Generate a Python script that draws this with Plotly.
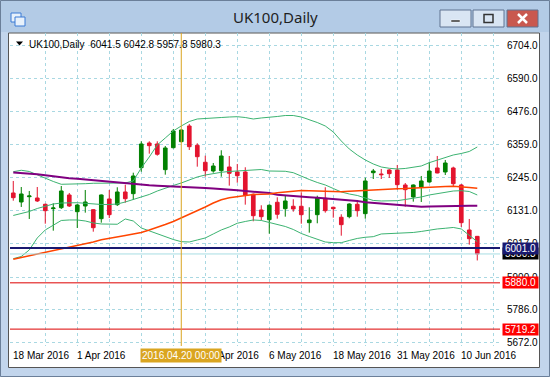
import plotly.graph_objects as go

# ---------------- data ----------------
bar_index = list(range(59))
opens = [6192.2, 6160.9, 6179.3, 6174.8, 6152.9, 6137.7, 6141.1, 6185.3, 6127.2, 6147.0,
         6134.2, 6102.9, 6171.4, 6151.6, 6195.7, 6189.8, 6280.1, 6365.9, 6362.5, 6273.2,
         6349.6, 6370.5, 6425.0, 6357.9, 6298.9, 6268.6, 6269.7, 6282.5, 6265.2, 6265.2,
         6187.7, 6133.1, 6099.4, 6159.9, 6137.7, 6146.0, 6146.0, 6089.0, 6116.8, 6173.8,
         6142.5, 6107.8, 6109.9, 6152.9, 6120.3, 6262.7, 6258.2, 6272.1, 6272.1, 6220.0,
         6178.3, 6213.0, 6230.4, 6279.1, 6265.2, 6279.1, 6220.0, 6063.6, 6041.5]
highs = [6233.9, 6213.0, 6199.2, 6213.0, 6155.0, 6156.4, 6216.5, 6192.2, 6153.9, 6202.6,
         6136.0, 6187.0, 6202.6, 6212.0, 6221.1, 6262.7, 6371.8, 6371.8, 6371.8, 6355.5,
         6414.6, 6413.0, 6432.0, 6364.9, 6321.8, 6296.4, 6340.6, 6320.8, 6293.0, 6281.5,
         6190.0, 6149.5, 6152.9, 6177.3, 6184.2, 6170.3, 6194.6, 6142.5, 6182.8, 6212.0,
         6144.6, 6118.2, 6156.4, 6167.9, 6245.4, 6275.6, 6275.6, 6275.0, 6289.5, 6226.9,
         6222.0, 6251.3, 6299.9, 6320.8, 6306.9, 6283.6, 6223.5, 6101.9, 6042.8]
lows = [6165.4, 6143.6, 6101.9, 6160.9, 6085.5, 6061.2, 6136.6, 6143.6, 6070.6, 6123.8,
        6057.7, 6089.0, 6105.3, 6147.0, 6158.5, 6167.9, 6266.2, 6328.8, 6321.8, 6255.8,
        6347.0, 6368.0, 6341.6, 6283.6, 6248.8, 6262.7, 6248.8, 6217.6, 6228.0, 6151.6,
        6093.9, 6097.3, 6050.8, 6102.9, 6109.9, 6127.2, 6085.5, 6054.3, 6086.9, 6123.8,
        6106.4, 6043.8, 6104.3, 6109.9, 6102.9, 6240.8, 6240.8, 6244.3, 6203.7, 6144.6,
        6162.0, 6160.9, 6228.0, 6260.6, 6254.7, 6214.1, 6074.1, 6012.6, 5957.8]
closes = [6175.9, 6188.7, 6181.8, 6164.4, 6130.7, 6140.1, 6199.2, 6147.0, 6150.5, 6160.9,
          6071.6, 6185.3, 6116.8, 6195.7, 6172.4, 6251.3, 6362.5, 6356.6, 6326.7, 6348.6,
          6407.6, 6411.1, 6353.1, 6318.3, 6269.7, 6286.0, 6320.8, 6260.6, 6252.3, 6184.2,
          6113.3, 6109.9, 6149.5, 6118.2, 6164.4, 6136.6, 6116.8, 6098.4, 6175.9, 6130.7,
          6137.7, 6082.1, 6153.9, 6130.7, 6233.9, 6268.6, 6255.8, 6259.3, 6221.1, 6203.7,
          6220.0, 6233.9, 6268.6, 6261.7, 6296.4, 6224.5, 6089.0, 6033.4, 5980.3]

bb_upper = [6266.2, 6271.1, 6266.9, 6254.7, 6244.3, 6232.2, 6222.4, 6222.4, 6223.5, 6224.5,
            6225.9, 6226.2, 6227.0, 6228.0, 6227.0, 6233.9, 6279.1, 6317.3, 6359.0, 6383.3,
            6407.6, 6425.0, 6440.6, 6449.3, 6451.7, 6452.8, 6454.5, 6456.2, 6457.3, 6454.5,
            6449.3, 6452.8, 6454.5, 6458.0, 6461.4, 6461.4, 6456.2, 6447.5, 6437.1, 6425.0,
            6404.2, 6372.9, 6345.1, 6324.2, 6306.9, 6293.0, 6282.5, 6278.0, 6275.6, 6277.4,
            6281.5, 6286.0, 6297.5, 6306.9, 6317.3, 6324.2, 6329.5, 6336.4, 6352.0]
bb_middle = [6114.1, 6121.0, 6127.9, 6138.3, 6147.0, 6153.9, 6157.4, 6158.4, 6158.4, 6156.4,
             6153.9, 6152.2, 6152.2, 6153.9, 6160.9, 6169.6, 6178.3, 6187.0, 6199.1, 6209.6,
             6218.3, 6227.0, 6237.4, 6247.8, 6254.7, 6260.0, 6264.1, 6266.9, 6268.6, 6272.1,
             6273.8, 6273.8, 6268.6, 6267.6, 6267.6, 6262.7, 6249.5, 6239.1, 6228.7, 6220.0,
             6207.8, 6195.7, 6188.7, 6183.6, 6174.8, 6166.2, 6164.4, 6164.4, 6165.4, 6169.6,
             6173.8, 6178.3, 6185.3, 6190.5, 6194.0, 6199.1, 6200.2, 6197.4, 6185.3]
bb_lower = [5963.9, 5971.6, 5994.2, 6035.9, 6063.7, 6081.0, 6096.7, 6098.4, 6098.4, 6094.9,
            6088.0, 6084.5, 6083.5, 6083.5, 6101.9, 6094.9, 6070.6, 6060.2, 6052.2, 6041.1,
            6030.6, 6023.0, 6021.9, 6028.9, 6035.9, 6049.8, 6063.7, 6074.1, 6087.0, 6093.2,
            6098.4, 6096.7, 6089.7, 6082.8, 6075.8, 6065.4, 6051.5, 6041.1, 6030.6, 6021.9,
            6019.5, 6019.5, 6027.2, 6034.2, 6038.3, 6040.4, 6049.8, 6050.8, 6052.2, 6053.2,
            6055.0, 6058.5, 6063.7, 6067.2, 6069.6, 6072.4, 6067.2, 6046.3, 6023.0]
ma_purple = [6263.4, 6261.7, 6259.3, 6257.2, 6253.7, 6249.5, 6245.4, 6243.3, 6241.9, 6239.1,
             6237.4, 6235.0, 6232.2, 6229.4, 6225.9, 6223.5, 6221.0, 6219.0, 6217.6, 6216.5,
             6215.8, 6215.5, 6214.1, 6212.0, 6209.6, 6207.5, 6206.1, 6204.4, 6201.6, 6199.1,
             6197.4, 6195.7, 6192.2, 6186.3, 6183.6, 6181.8, 6180.1, 6177.3, 6175.6, 6173.8,
             6169.6, 6167.9, 6166.2, 6164.4, 6159.9, 6157.4, 6154.7, 6152.2, 6150.5, 6148.8,
             6146.0, 6144.6, 6145.3, 6146.3, 6147.7, 6148.1, 6148.1, 6148.1, 6148.1]
ma_orange = [5962.2, 5968.1, 5973.3, 5979.2, 5985.5, 5990.7, 5997.6, 6004.6, 6009.8, 6015.0,
             6021.9, 6029.9, 6034.1, 6039.4, 6044.6, 6049.8, 6055.0, 6063.7, 6072.4, 6082.8,
             6093.2, 6105.3, 6117.5, 6129.7, 6143.6, 6157.4, 6168.9, 6175.6, 6180.1, 6184.6,
             6187.0, 6188.0, 6188.7, 6192.9, 6196.4, 6199.1, 6200.9, 6199.8, 6198.4, 6197.4,
             6196.7, 6196.4, 6198.1, 6199.8, 6201.6, 6204.4, 6205.4, 6206.1, 6207.1, 6207.8,
             6209.6, 6210.3, 6212.0, 6213.4, 6214.8, 6215.5, 6214.1, 6211.3, 6208.6]

price_ticks = [6704.0, 6590.0, 6476.0, 6359.0, 6245.0, 6131.0, 6017.0, 5900.0, 5786.0, 5672.0]
time_label_index = [0, 8, 16, 24, 32, 40, 48, 56]
time_labels = ["18 Mar 2016", "1 Apr 2016", "13 Apr 2016", "25 Apr 2016",
               "6 May 2016", "18 May 2016", "31 May 2016", "10 Jun 2016"]
grid_index = list(range(4, 61, 4))

level_values = [5980.3, 6001.0, 5880.0, 5719.2]
crosshair_index = 21
crosshair_label = "2016.04.20 00:00"
symbol_label = "UK100,Daily"
ohlc_label = "6041.5 6042.8 5957.8 5980.3"
window_title = "UK100,Daily"

# ---------------- styling ----------------
W, H = 550, 377
ML, MR, MT, MB = 10, 50, 33, 31
PW, PH = W - ML - MR, H - MT - MB
FONT = "Liberation Sans, Arial"
FS = 10
GRID = "#a9d8e2"
BULL = "#008000"
BEAR = "#e3142e"
BB = "#3cb371"


def xp(px):
    return (px - ML) / PW


def yp(py):
    return (H - MB - py) / PH


fig = go.Figure()
fig.add_trace(go.Candlestick(
    x=bar_index, open=opens, high=highs, low=lows, close=closes,
    increasing=dict(line=dict(color=BULL, width=1), fillcolor=BULL),
    decreasing=dict(line=dict(color=BEAR, width=1), fillcolor=BEAR),
    whiskerwidth=0, hoverinfo="skip", showlegend=False))
for series, color, width in [(bb_upper, BB, 1), (bb_middle, BB, 1), (bb_lower, BB, 1),
                             (ma_purple, "#800080", 2), (ma_orange, "#ff4500", 1.5)]:
    fig.add_trace(go.Scatter(x=bar_index, y=series, mode="lines",
                             line=dict(color=color, width=width),
                             hoverinfo="skip", showlegend=False))

shapes = []
# window frame / chrome
shapes.append(dict(type="rect", xref="paper", yref="paper", layer="below",
                   x0=xp(0), x1=xp(W), y0=yp(0), y1=yp(32),
                   fillcolor="#b3cbe6", line=dict(width=0)))
shapes.append(dict(type="rect", xref="paper", yref="paper", layer="below",
                   x0=xp(8.5), x1=xp(539.5), y0=yp(33), y1=yp(367.5),
                   fillcolor="white", line=dict(color="#555555", width=1)))
shapes.append(dict(type="rect", xref="paper", yref="paper", layer="above",
                   x0=xp(0.5), x1=xp(W - 0.5), y0=yp(0.5), y1=yp(H - 0.5),
                   line=dict(color="#6b7f99", width=1)))
# title bar buttons
for bx0, bx1, fill in [(440, 471, "#d9e5f3"), (473, 504, "#d9e5f3"), (507, 538, "#c9584f")]:
    shapes.append(dict(type="rect", xref="paper", yref="paper", layer="above",
                       x0=xp(bx0), x1=xp(bx1), y0=yp(10), y1=yp(27),
                       fillcolor=fill, line=dict(color="#5f7391", width=1)))
shapes.append(dict(type="rect", xref="paper", yref="paper", layer="above",
                   x0=xp(451), x1=xp(460), y0=yp(20), y1=yp(22),
                   fillcolor="#333333", line=dict(color="#ffffff", width=0.5)))
shapes.append(dict(type="rect", xref="paper", yref="paper", layer="above",
                   x0=xp(484), x1=xp(493), y0=yp(14.5), y1=yp(22.5),
                   fillcolor="rgba(0,0,0,0)", line=dict(color="#333333", width=1.5)))
shapes.append(dict(type="path", xref="paper", yref="paper", layer="above",
                   path=f"M {xp(518)} {yp(14)} L {xp(527)} {yp(23)} M {xp(527)} {yp(14)} L {xp(518)} {yp(23)}",
                   line=dict(color="white", width=2.5)))
# window icon
for ix, iy in [(11, 13), (15, 17)]:
    shapes.append(dict(type="rect", xref="paper", yref="paper", layer="above",
                       x0=xp(ix), x1=xp(ix + 10), y0=yp(iy), y1=yp(iy + 9),
                       fillcolor="#e8f1fb", line=dict(color="#3a7bd5", width=1)))
# info triangle
shapes.append(dict(type="path", xref="paper", yref="paper", layer="above",
                   path=f"M {xp(16)} {yp(41.5)} L {xp(23)} {yp(41.5)} L {xp(19.5)} {yp(45.5)} Z",
                   fillcolor="black", line=dict(width=0)))
# level lines
level_style = [("#a8dde3", 1), ("#191970", 2), ("#dd0000", 1), ("#dd0000", 1)]
for val, (col, wd) in zip(level_values, level_style):
    shapes.append(dict(type="line", xref="paper", yref="y", layer="above",
                       x0=0, x1=1, y0=val, y1=val, line=dict(color=col, width=wd)))
# crosshair
shapes.append(dict(type="line", xref="x", yref="paper", layer="above",
                   x0=crosshair_index, x1=crosshair_index, y0=0, y1=1,
                   line=dict(color="#daa520", width=1)))

annotations = []
annotations.append(dict(xref="paper", yref="paper", x=xp(275), y=yp(17), text=window_title,
                        showarrow=False, xanchor="center", yanchor="middle",
                        font=dict(family="Noto Sans, Liberation Sans, Arial", size=15, color="#1e1e1e")))
annotations.append(dict(xref="paper", yref="paper", x=xp(27), y=yp(44),
                        text=symbol_label + "  " + ohlc_label, showarrow=False,
                        xanchor="left", yanchor="middle",
                        font=dict(family=FONT, size=FS, color="black")))
for idx, lab in zip(time_label_index, time_labels):
    annotations.append(dict(xref="x", yref="paper", x=idx, y=yp(355.5), text=lab,
                            showarrow=False, xanchor="left", yanchor="middle", xshift=-2,
                            font=dict(family=FONT, size=FS, color="black")))
annotations.append(dict(xref="x", yref="paper", x=crosshair_index, y=yp(355.5),
                        text=crosshair_label, showarrow=False, xanchor="center",
                        yanchor="middle", bgcolor="#daa520", borderpad=1,
                        font=dict(family=FONT, size=FS, color="white")))
label_style = [("black", "white"), ("#191970", "white"), ("#ff0000", "white"), ("#ff0000", "white")]
for val, (bg, fg) in zip(level_values, label_style):
    annotations.append(dict(xref="paper", yref="y", x=1, y=val, text=f"{val:.1f}",
                            showarrow=False, xanchor="left", yanchor="middle", xshift=2,
                            bgcolor=bg, width=35, borderpad=0, align="center",
                            font=dict(family=FONT, size=FS, color=fg)))

fig.update_layout(
    width=W, height=H, autosize=False,
    margin=dict(l=ML, r=MR, t=MT, b=MB, pad=0),
    paper_bgcolor="#c2d5ec", plot_bgcolor="white",
    shapes=shapes, annotations=annotations, showlegend=False,
    boxgap=0.35,
    xaxis=dict(range=[-0.41, 60.84], tickvals=grid_index, showticklabels=False,
               showgrid=True, gridcolor=GRID, griddash="3px,3px", gridwidth=1,
               zeroline=False, showline=False, ticks="", rangeslider=dict(visible=False),
               fixedrange=True),
    yaxis=dict(range=[5660.5, 6748.1], side="right", tickvals=price_ticks,
               ticktext=[f"{v:.1f}" for v in price_ticks], showgrid=True,
               gridcolor=GRID, griddash="3px,3px", gridwidth=1, zeroline=False,
               showline=False, ticks="", ticklabelstandoff=6,
               tickfont=dict(family=FONT, size=FS, color="black"), fixedrange=True),
)
fig.write_html("out.html", config={"displayModeBar": False},
               post_script="document.body.style.margin='0px';document.body.style.overflow='hidden';")
